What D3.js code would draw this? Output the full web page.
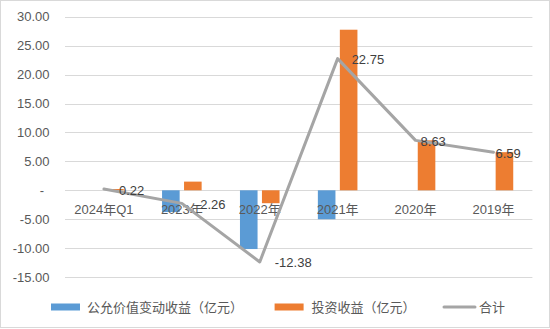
<!DOCTYPE html>
<html>
<head>
<meta charset="utf-8">
<script src="https://cdn.jsdelivr.net/npm/d3@7"></script>
<style>
  html, body { margin: 0; padding: 0; background: #fff; }
  svg { display: block; }
  text { font-family: "Liberation Sans", "Noto Sans CJK SC", sans-serif; font-size: 13px; }
</style>
</head>
<body>
<svg id="chart" width="550" height="329"></svg>
<script>
// Chart data
const categories = ["2024年Q1", "2023年", "2022年", "2021年", "2020年", "2019年"];
const fairValueGain = [0, -3.76, -10.15, -5.0, 0, 0];        // 公允价值变动收益（亿元）
const investmentIncome = [0.22, 1.5, -2.23, 27.75, 8.63, 6.59]; // 投资收益（亿元）
const totals = [0.22, -2.26, -12.38, 22.75, 8.63, 6.59];       // 合计
const yTicks = [-15, -10, -5, 0, 5, 10, 15, 20, 25, 30];
const seriesNames = ["公允价值变动收益（亿元）", "投资收益（亿元）", "合计"];

// Horizontal nudges for the total labels, in px
const labelDx = [15, 14, 15, 14, 5, 2];

const colors = { fv: "#5B9BD5", inv: "#ED7D31", total: "#A5A5A5" };

const svg = d3.select("#chart");

// Outer chart frame
svg.append("rect")
  .attr("x", 0.5).attr("y", 0.5)
  .attr("width", 549).attr("height", 327)
  .attr("fill", "#fff").attr("stroke", "#D9D9D9");

const plot = { left: 65, right: 532.4, top: 16.7, bottom: 277.1 };

const x = d3.scaleBand().domain(categories).range([plot.left, plot.right]).padding(0);
const y = d3.scaleLinear().domain([-15, 30]).range([plot.bottom, plot.top]);
const bw = x.bandwidth();
const xInner = d3.scaleBand().domain(["fv", "inv"])
  .range([-0.254 * bw, 0.254 * bw]).paddingInner(0.2);

// Gridlines
svg.append("g").selectAll("line").data(yTicks).join("line")
  .attr("x1", plot.left).attr("x2", plot.right)
  .attr("y1", d => Math.round(y(d)) + 0.5).attr("y2", d => Math.round(y(d)) + 0.5)
  .attr("stroke", "#D9D9D9").attr("stroke-width", 1);

// Number format with a plain hyphen for negatives
const fmt = d => d.toFixed(2);

// Y axis labels (zero shown as a dash)
svg.append("g").selectAll("text").data(yTicks).join("text")
  .attr("x", d => d === 0 ? 44 : 49.5)
  .attr("y", d => y(d))
  .attr("dy", "0.35em")
  .attr("text-anchor", "end")
  .attr("fill", "#595959")
  .text(d => d === 0 ? "-" : fmt(d));

// Bars
const barRows = categories.map((c, i) => ({ c, fv: fairValueGain[i], inv: investmentIncome[i] }));
["fv", "inv"].forEach(key => {
  svg.append("g").selectAll("rect").data(barRows.filter(d => d[key] !== 0)).join("rect")
    .attr("x", d => x(d.c) + bw / 2 + xInner(key))
    .attr("width", xInner.bandwidth())
    .attr("y", d => y(Math.max(0, d[key])))
    .attr("height", d => Math.abs(y(d[key]) - y(0)))
    .attr("fill", colors[key]);
});

// Category labels
svg.append("g").selectAll("text").data(categories).join("text")
  .attr("x", d => x(d) + bw / 2)
  .attr("y", 214)
  .attr("text-anchor", "middle")
  .attr("fill", "#595959")
  .text(d => d);

// Total line
const line = d3.line()
  .x((d, i) => x(categories[i]) + bw / 2)
  .y(d => y(d));
svg.append("path")
  .datum(totals)
  .attr("d", line)
  .attr("fill", "none")
  .attr("stroke", colors.total)
  .attr("stroke-width", 3)
  .attr("stroke-linejoin", "round")
  .attr("stroke-linecap", "round");

// Total value labels
svg.append("g").selectAll("text").data(totals).join("text")
  .attr("x", (d, i) => x(categories[i]) + bw / 2 + labelDx[i])
  .attr("y", d => y(d) + 1)
  .attr("dy", "0.35em")
  .attr("fill", "#404040")
  .text(d => fmt(d));

// Legend
const legend = svg.append("g");
const ly = 307;
legend.append("rect").attr("x", 51).attr("y", ly - 3.5).attr("width", 29).attr("height", 7).attr("fill", colors.fv);
legend.append("text").attr("x", 87).attr("y", ly).attr("dy", "0.35em").attr("fill", "#595959").text(seriesNames[0]);
legend.append("rect").attr("x", 274.6).attr("y", ly - 3.5).attr("width", 29).attr("height", 7).attr("fill", colors.inv);
legend.append("text").attr("x", 311.5).attr("y", ly).attr("dy", "0.35em").attr("fill", "#595959").text(seriesNames[1]);
legend.append("line").attr("x1", 444).attr("x2", 475).attr("y1", ly).attr("y2", ly)
  .attr("stroke", colors.total).attr("stroke-width", 3).attr("stroke-linecap", "round");
legend.append("text").attr("x", 479).attr("y", ly).attr("dy", "0.35em").attr("fill", "#595959").text(seriesNames[2]);
</script>
</body>
</html>
